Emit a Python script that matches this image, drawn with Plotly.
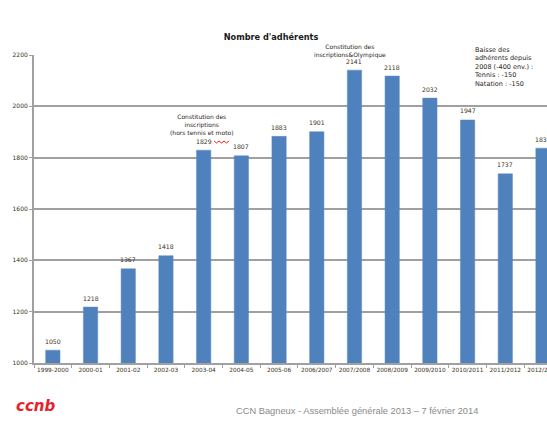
import plotly.graph_objects as go

seasons = ["1999-2000", "2000-01", "2001-02", "2002-03", "2003-04", "2004-05",
           "2005-06", "2006/2007", "2007/2008", "2008/2009", "2009/2010",
           "2010/2011", "2011/2012", "2012/2013"]
members = [1050, 1218, 1367, 1418, 1829, 1807, 1883, 1901, 2141, 2118, 2032,
           1947, 1737, 1837]
y_ticks = [1000, 1200, 1400, 1600, 1800, 2000, 2200]

W, H = 547, 422
L, R, T, B = 34, 0, 55, 422 - 363
PW, PH = W - L - R, H - T - B


def px(x):
    return (x - L) / PW


def py(y):
    return (H - B - y) / PH


fig = go.Figure()
fig.add_trace(go.Bar(
    x=seasons, y=members,
    marker=dict(color="#4f81bd", line=dict(color="#5b8cc6", width=0.5)),
    cliponaxis=True,
    hoverinfo="skip",
))

ann_list = []
# value labels above the bars
for s, v in zip(seasons, members):
    ann_list.append(dict(x=s, y=v, xref="x", yref="y", text=str(v), showarrow=False,
                         yshift=9, yanchor="middle", xanchor="center",
                         font=dict(size=6.2, color="#3a3020", family="DejaVu Sans")))

annots = [
    dict(x=px(202), y=py(124), text="Constitution des<br>inscriptions<br>(hors tennis et moto)",
         xanchor="center", yanchor="middle", align="center", size=6),
    dict(x=px(350), y=py(51), text="Constitution des<br>inscriptions&amp;Olympique",
         xanchor="center", yanchor="middle", align="center", size=6),
    dict(x=px(472), y=py(67), text="Baisse des<br>adhérents depuis<br>2008 (-400 env.) :<br>Tennis : -150<br>Natation : -150",
         xanchor="left", yanchor="middle", align="left", size=6.5),
]
for a in annots:
    size = a.pop("size")
    ann_list.append(dict(xref="paper", yref="paper", showarrow=False,
                         font=dict(size=size, color="#2a2418", family="DejaVu Sans"),
                         **a))

# footer
ann_list.append(dict(xref="paper", yref="paper", x=px(357), y=py(411), showarrow=False,
                     text="CCN Bagneux - Assemblée générale 2013 – 7 février 2014",
                     font=dict(size=9.3, color="#8a8a8a", family="Liberation Sans"),
                     xanchor="center", yanchor="middle"))
ann_list.append(dict(xref="paper", yref="paper", x=px(35), y=py(406), showarrow=False,
                     text="<b><i>ccnb</i></b>",
                     font=dict(size=15, color="#e8202a", family="DejaVu Sans"),
                     xanchor="center", yanchor="middle"))

fig.update_layout(
    width=W, height=H,
    margin=dict(l=L, r=R, t=T, b=B),
    paper_bgcolor="white", plot_bgcolor="white",
    showlegend=False,
    bargap=0.62,
    title=dict(text="<b>Nombre d'adhérents</b>", x=271 / W, xref="container",
               y=1 - 37 / H, yref="container", xanchor="center", yanchor="middle",
               font=dict(size=8.2, color="#1a1a1a", family="DejaVu Sans")),
    annotations=ann_list,
    shapes=[dict(type="path", xref="paper", yref="paper",
                 path="M {} {} L {} {} L {} {} L {} {} L {} {} L {} {} L {} {}".format(
                     px(214), py(141), px(216.5), py(143), px(219), py(141),
                     px(221.5), py(143), px(224), py(141), px(226.5), py(143), px(229), py(141)),
                 line=dict(color="#ff2020", width=1))],
)
fig.update_xaxes(
    type="category", range=[-0.5, 13 + (547 - 543) / 37.7],
    automargin=False,
    showline=True, linecolor="#a0a0a0", linewidth=2,
    ticks="outside", tickson="boundaries", ticklen=3, tickcolor="#a0a0a0",
    tickfont=dict(size=5.8, color="#3a3020", family="DejaVu Sans"),
    tickangle=0, showgrid=False,
)
fig.update_yaxes(
    range=[1000, 2200], tickvals=y_ticks,
    automargin=False,
    showline=True, linecolor="#a0a0a0", linewidth=2,
    ticks="outside", ticklen=3, tickcolor="#a0a0a0",
    showgrid=True, gridcolor="#a0a0a0", gridwidth=1.5,
    tickfont=dict(size=6, color="#3a3020", family="DejaVu Sans"),
    zeroline=False,
)

fig.write_html("out.html",
               config={"displayModeBar": False},
               post_script="document.body.style.margin='0';"
                           "document.body.style.overflow='hidden';")
